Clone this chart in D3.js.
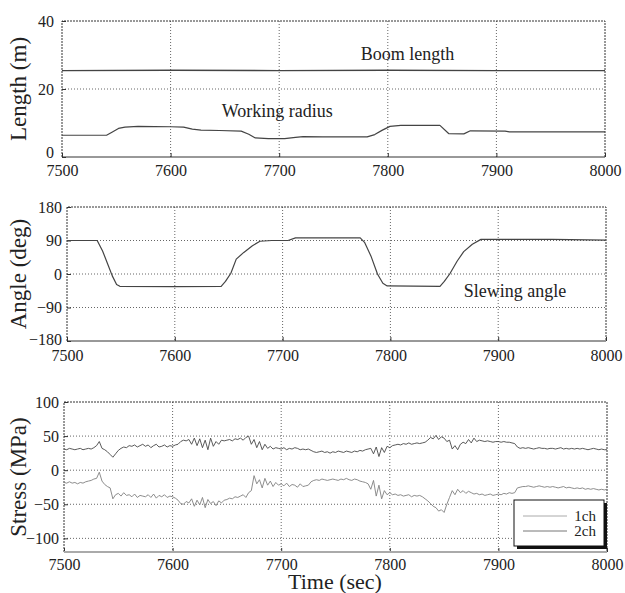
<!DOCTYPE html>
<html>
<head>
<meta charset="utf-8">
<script src="https://cdnjs.cloudflare.com/ajax/libs/d3/7.8.5/d3.min.js"></script>
<style>
    body { margin: 0; background: #fff; }
    svg text { font-family: "Liberation Serif", "Times New Roman", serif; fill: #222; }
    .grid line { stroke: #666; stroke-dasharray: 1,2; }
    .axis text { font-size: 16px; font-family: "Liberation Serif", serif; }
    .axis line { stroke: #333; }
</style>
</head>
<body>
<div id="chart"></div>
<script>

// ---- data ----
var timeTicks = [7500, 7600, 7700, 7800, 7900, 8000];
var lengthTicks = [0, 20, 40];
var angleTicks = [-180, -90, 0, 90, 180];
var stressTicks = [-100, -50, 0, 50, 100];

var boomLength = [[7500, 25.4], [7600, 25.5], [7700, 25.4], [7800, 25.5], [7900, 25.4], [8000, 25.4]];

var workingRadius = [[7500, 6.4], [7541, 6.4], [7546, 7.3], [7552, 8.4], [7558, 8.8], [7570, 9.0], [7600, 8.9],
    [7612, 8.8], [7620, 8.2], [7628, 7.9], [7645, 7.8], [7665, 7.6], [7672, 6.7], [7678, 5.6], [7690, 5.4],
    [7705, 5.4], [7715, 5.8], [7722, 6.0], [7740, 5.9], [7781, 5.9], [7788, 6.6], [7795, 7.9], [7802, 9.0],
    [7812, 9.3], [7848, 9.3], [7856, 6.9], [7870, 6.8], [7876, 7.7], [7908, 7.6], [7912, 7.4], [8000, 7.4]];

var slewingAngle = [[7500, 90], [7528, 90], [7533, 62], [7538, 25], [7542, -5], [7546, -28], [7549, -33],
    [7600, -34], [7643, -33], [7647, -20], [7652, 2], [7657, 40], [7664, 58], [7672, 76], [7679, 88],
    [7690, 90], [7705, 90], [7712, 97], [7772, 97], [7776, 85], [7782, 48], [7788, 0], [7793, -25],
    [7797, -32], [7846, -33], [7850, -20], [7855, 0], [7862, 35], [7868, 60], [7876, 80], [7884, 93],
    [7950, 93], [8000, 91]];

// stress samples, one every 2.5 sec starting at 7500
var stressStart = 7500, stressStep = 2.5;

var stress2ch = [
    31,30,32,31,30,31,32,30,31,32,
    31,33,36,42,32,30,27,23,19,24,
    29,32,34,33,36,35,37,34,36,38,
    35,37,33,36,38,34,35,37,34,36,
    35,37,38,42,44,43,45,38,47,36,
    46,33,44,30,47,35,42,38,44,43,
    44,45,43,46,45,47,44,48,50,38,
    45,33,42,30,38,32,35,31,33,32,
    31,33,30,32,31,33,32,30,31,30,
    31,29,27,26,27,28,26,27,25,27,
    26,28,27,26,28,27,26,28,27,29,
    28,30,31,32,24,34,20,33,26,35,
    33,36,37,38,37,39,38,40,38,39,
    40,39,40,41,44,48,46,51,45,49,
    47,42,44,31,36,30,38,41,39,45,
    40,47,42,44,43,42,43,42,41,42,
    42,41,42,41,41,40,39,34,32,33,
    32,33,32,31,32,33,32,32,31,32,
    32,31,32,33,31,32,31,32,31,32,
    31,32,31,30,31,32,31,30,31,30,
    30];

var stress1ch = [
    -18,-19,-17,-19,-18,-20,-18,-19,-17,-16,
    -15,-13,-12,-3,-16,-21,-24,-26,-42,-36,
    -34,-38,-33,-37,-36,-39,-35,-40,-37,-38,
    -39,-36,-40,-35,-41,-37,-39,-36,-40,-38,
    -39,-41,-44,-49,-50,-46,-48,-42,-53,-44,
    -51,-40,-55,-43,-49,-46,-52,-45,-48,-44,
    -43,-41,-42,-39,-40,-38,-36,-40,-33,-30,
    -8,-20,-14,-26,-12,-22,-16,-24,-18,-22,
    -20,-23,-19,-24,-21,-22,-25,-20,-24,-23,
    -22,-17,-15,-14,-15,-13,-14,-15,-14,-13,
    -14,-15,-13,-14,-12,-14,-15,-13,-14,-16,
    -17,-18,-20,-28,-15,-38,-22,-42,-30,-36,
    -33,-36,-35,-37,-36,-38,-37,-36,-39,-37,
    -38,-37,-39,-42,-45,-49,-53,-55,-60,-58,
    -62,-50,-40,-30,-36,-28,-33,-30,-34,-31,
    -33,-35,-34,-36,-35,-37,-36,-35,-37,-36,
    -35,-36,-34,-35,-33,-34,-33,-26,-25,-24,
    -24,-23,-24,-25,-24,-23,-24,-25,-24,-25,
    -24,-25,-26,-25,-24,-26,-25,-26,-27,-26,
    -27,-26,-28,-27,-28,-27,-28,-29,-28,-29,
    -28];

function toPairs(values) {
    return values.map(function(v, i) { return [stressStart + i * stressStep, v]; });
}


/*
 * Panel - one framed time-series plot
 */

Panel = function(_svg, _opts) {
    this.svg = _svg;
    this.opts = _opts;
    this.initVis();
}

Panel.prototype.initVis = function() {
    var vis = this, o = vis.opts;

    vis.width = o.right - o.left;
    vis.height = o.bottom - o.top;

    vis.g = vis.svg.append("g")
        .attr("transform", "translate(" + o.left + "," + o.top + ")");

    vis.x = d3.scaleLinear().domain([7500, 8000]).range([0, vis.width]);
    vis.y = d3.scaleLinear().domain(o.yDomain).range([vis.height, 0]);

    // dotted grid
    var grid = vis.g.append("g").attr("class", "grid");
    grid.selectAll(".vx")
        .data(timeTicks.slice(1, -1))
        .enter().append("line")
        .attr("x1", function(d) { return vis.x(d); })
        .attr("x2", function(d) { return vis.x(d); })
        .attr("y1", 0).attr("y2", vis.height);
    grid.selectAll(".hy")
        .data(o.yTicks.filter(function(d) { return d > o.yDomain[0] && d < o.yDomain[1]; }))
        .enter().append("line")
        .attr("x1", 0).attr("x2", vis.width)
        .attr("y1", function(d) { return vis.y(d); })
        .attr("y2", function(d) { return vis.y(d); });

    // axes, ticks pointing inward
    vis.xAxis = d3.axisBottom(vis.x).tickValues(timeTicks).tickSize(-4).tickPadding(o.xPad).tickFormat(d3.format("d"));
    vis.yAxis = d3.axisLeft(vis.y).tickValues(o.yTicks).tickSize(-4).tickPadding(o.yPad).tickFormat(d3.format("d"));

    vis.g.append("g")
        .attr("class", "axis")
        .attr("transform", "translate(0," + vis.height + ")")
        .call(vis.xAxis)
        .call(function(g) { g.select(".domain").remove(); });

    vis.g.append("g")
        .attr("class", "axis")
        .call(vis.yAxis)
        .call(function(g) { g.select(".domain").remove(); })
        .selectAll("text")
        .attr("dy", function(d) { return d === o.yDomain[0] ? o.lowDy || "0.32em" : "0.32em"; });

    // frame: dotted top / sides, solid bottom
    vis.g.append("path")
        .attr("d", "M0," + vis.height + "V0H" + vis.width + "V" + vis.height)
        .attr("fill", "none")
        .attr("stroke", "#333")
        .attr("stroke-dasharray", "2,1");
    vis.g.append("line")
        .attr("x1", 0).attr("x2", vis.width)
        .attr("y1", vis.height).attr("y2", vis.height)
        .attr("stroke", o.bottomColor || "#333")
        .attr("stroke-width", o.bottomWidth || 1);

    // y label
    vis.svg.append("text")
        .attr("transform", "translate(18," + (o.top + vis.height / 2) + ") rotate(-90)")
        .attr("text-anchor", "middle")
        .attr("dy", "0.35em")
        .style("font-size", "23px")
        .text(o.yLabel);

    vis.line = d3.line()
        .x(function(d) { return vis.x(d[0]); })
        .y(function(d) { return vis.y(d[1]); });
}

Panel.prototype.addSeries = function(data, color, width) {
    var vis = this;
    vis.g.append("path")
        .datum(data)
        .attr("fill", "none")
        .attr("stroke", color)
        .attr("stroke-width", width || 1)
        .attr("stroke-linejoin", "round")
        .attr("d", vis.line);
}

Panel.prototype.addNote = function(text, t, v) {
    var vis = this;
    vis.g.append("text")
        .attr("x", vis.x(t))
        .attr("y", vis.y(v))
        .style("font-size", "18px")
        .text(text);
}


var svg = d3.select("#chart").append("svg")
    .attr("width", 625)
    .attr("height", 593);

// Length panel
var lengthPanel = new Panel(svg, {
    left: 62, right: 605, top: 21, bottom: 157,
    yDomain: [0, 40], yTicks: lengthTicks, yLabel: "Length (m)", xPad: 8, yPad: 8, lowDy: "0.05em"
});
lengthPanel.addSeries(workingRadius, "#444", 1.2);
lengthPanel.addSeries(boomLength, "#444", 1.4);
lengthPanel.addNote("Boom length", 7775, 28.5);
lengthPanel.addNote("Working radius", 7647, 11.8);

// Angle panel
var anglePanel = new Panel(svg, {
    left: 67, right: 606, top: 207, bottom: 341,
    yDomain: [-180, 180], yTicks: angleTicks, yLabel: "Angle (deg)", xPad: 9, yPad: 5, lowDy: "0.2em"
});
anglePanel.addSeries(slewingAngle, "#444", 1.2);
anglePanel.addNote("Slewing angle", 7868, -62);

// Stress panel
var stressPanel = new Panel(svg, {
    left: 64, right: 607, top: 402, bottom: 552,
    yDomain: [-120, 100], yTicks: stressTicks, yLabel: "Stress (MPa)", xPad: 7, yPad: 5,
    bottomColor: "#aaa", bottomWidth: 2
});
stressPanel.addSeries(toPairs(stress1ch), "#808080", 0.9);
stressPanel.addSeries(toPairs(stress2ch), "#474747", 0.9);

// x label
svg.append("text")
    .attr("x", 335)
    .attr("y", 589)
    .attr("text-anchor", "middle")
    .style("font-size", "22px")
    .text("Time (sec)");

// legend
var legend = svg.append("g").attr("transform", "translate(514,500)");
legend.append("rect")
    .attr("x", 3).attr("y", 3)
    .attr("width", 90).attr("height", 46)
    .attr("fill", "#111");
legend.append("rect")
    .attr("width", 90).attr("height", 46)
    .attr("fill", "#fff")
    .attr("stroke", "#111");

var legendItems = [["1ch", "#aaa"], ["2ch", "#777"]];
legendItems.forEach(function(d, i) {
    legend.append("line")
        .attr("x1", 9).attr("x2", 53)
        .attr("y1", 16 + i * 15).attr("y2", 16 + i * 15)
        .attr("stroke", d[1]);
    legend.append("text")
        .attr("x", 82).attr("y", 16 + i * 15)
        .attr("dy", "0.33em")
        .attr("text-anchor", "end")
        .style("font-size", "15px")
        .text(d[0]);
});

</script>
</body>
</html>
